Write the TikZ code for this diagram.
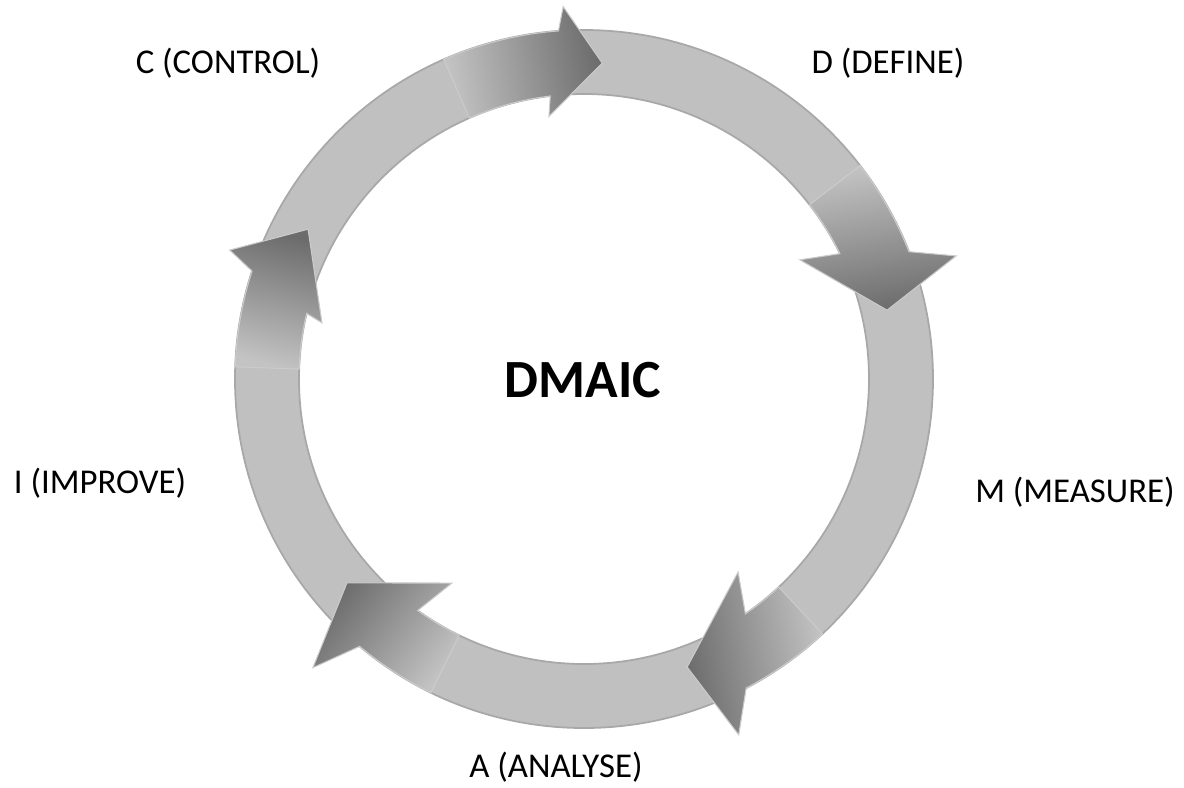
\documentclass[tikz,border=0pt]{standalone}
\usepackage{fontspec}
\setmainfont{Carlito}
\usepackage{tikz}

\definecolor{RingGray}{HTML}{C0C0C0}
\definecolor{RingEdge}{HTML}{A8A8A8}
\definecolor{ArrowLight}{HTML}{C3C3C3}
\definecolor{ArrowDark}{HTML}{6C6C6C}

\begin{document}
\begin{tikzpicture}[
  ring/.style={fill=RingGray, draw=RingEdge, line width=0.5pt, even odd rule},
  cyclearrow/.style={top color=ArrowDark, bottom color=ArrowLight, shading angle=#1, draw=RingEdge!60, line width=0.3pt},
  phase/.style={anchor=base, font=\fontsize{9.9}{11}\selectfont},
  hub/.style={anchor=base, font=\fontsize{15.3}{18}\selectfont\bfseries}
]
\useasboundingbox (-5.84,-4.08) rectangle (6.00,3.79);

% base ring
\path[ring] (0,0) circle (3.49) (0,0) circle (2.85);

% the five arrows, clockwise
\path[cyclearrow=-80] (113.7:3.49) arc[start angle=113.7, end angle=94.2, radius=3.49] -- (93.2:3.73) -- (86.7:3.165) -- (97.6:2.65) -- (96.8:2.85) arc[start angle=96.8, end angle=113.7, radius=2.85] -- cycle;
\path[cyclearrow=-170] (37.7:3.49) arc[start angle=37.7, end angle=21.4, radius=3.49] -- (18.3:3.92) -- (12.8:3.108) -- (28.9:2.466) -- (26.1:2.85) arc[start angle=26.1, end angle=37.7, radius=2.85] -- cycle;
\path[cyclearrow=100] (-46.9:3.49) arc[start angle=-46.9, end angle=-62.3, radius=3.49] -- (-66.5:3.88) -- (-70.3:3.06) -- (-51.4:2.47) -- (-55.5:2.85) arc[start angle=-55.5, end angle=-46.9, radius=2.85] -- cycle;
\path[cyclearrow=52] (244:3.49) arc[start angle=244, end angle=230, radius=3.49] -- (226.8:3.96) -- (220.7:3.127) -- (237.1:2.43) -- (234.3:2.85) arc[start angle=234.3, end angle=244, radius=2.85] -- cycle;
\path[cyclearrow=-15] (178:3.49) arc[start angle=178, end angle=162, radius=3.49] -- (160:3.77) -- (151.5:3.14) -- (167.9:2.68) -- (166.7:2.85) arc[start angle=166.7, end angle=178, radius=2.85] -- cycle;

% labels
\node[hub] (dmaic) at (-0.01,-0.18) {DMAIC};
\node[phase] (define) at (3.04,3.06) {D (DEFINE)};
\node[phase] (measure) at (4.91,-1.23) {M (MEASURE)};
\node[phase] (analyse) at (-0.28,-3.98) {A (ANALYSE)};
\node[phase] (improve) at (-4.84,-1.14) {I (IMPROVE)};
\node[phase] (control) at (-3.56,3.06) {C (CONTROL)};
\end{tikzpicture}
\end{document}
